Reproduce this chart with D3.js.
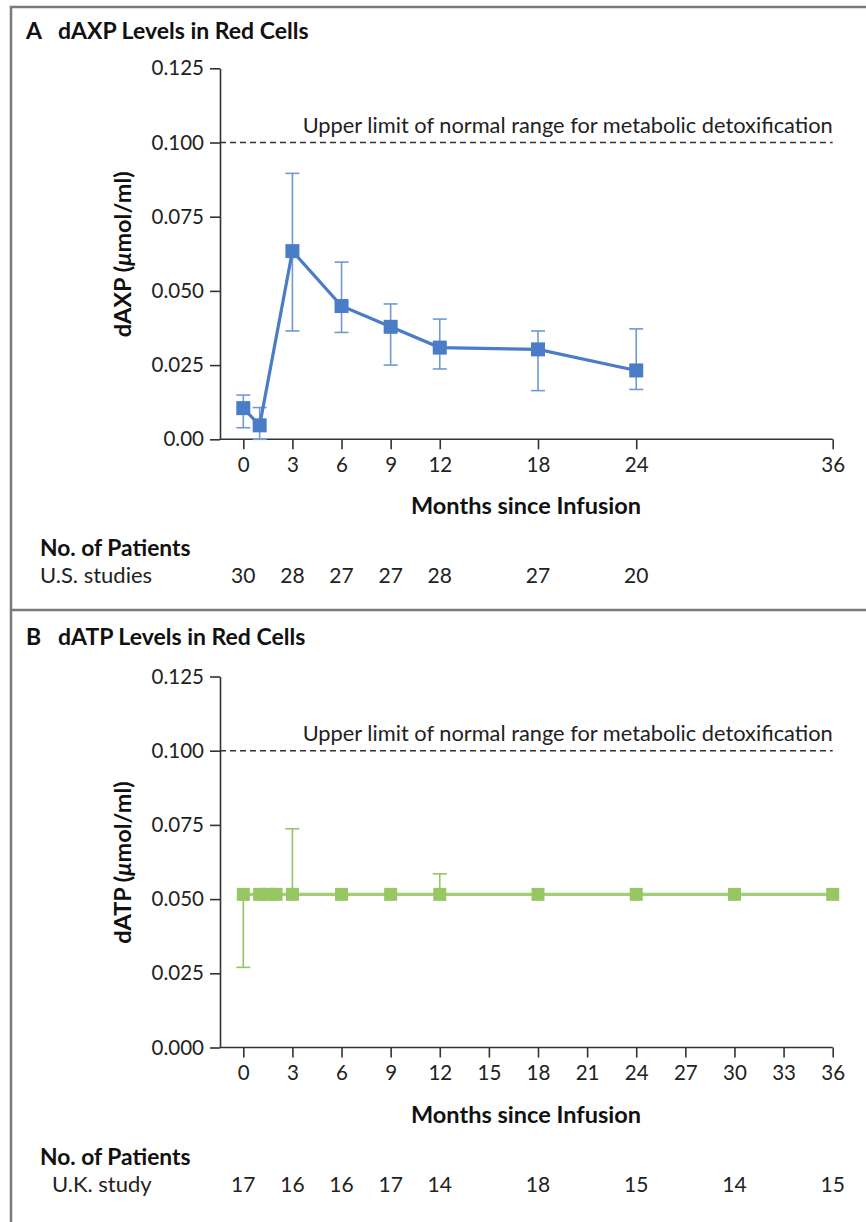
<!DOCTYPE html>
<html>
<head>
<meta charset="utf-8">
<script src="https://cdn.jsdelivr.net/npm/d3@7"></script>
<style>
  body { margin: 0; background: #fff; }
  svg { display: block; font-family: Lato, "Open Sans", sans-serif; }
</style>
</head>
<body>
<svg></svg>
<script>
// panel A: dAXP, U.S. studies
const monthsA = [0, 1, 3, 6, 9, 12, 18, 24];
const meanA   = [0.0105, 0.0047, 0.0634, 0.0449, 0.0379, 0.0309, 0.0303, 0.0232];
const upperA  = [0.0149, 0.0107, 0.0896, 0.0597, 0.0456, 0.0405, 0.0365, 0.0372];
const lowerA  = [0.0039, 0.0000, 0.0365, 0.0360, 0.0250, 0.0237, 0.0164, 0.0168];
const xTicksA = [0, 3, 6, 9, 12, 18, 24, 36];
const yTicksA = [0, 0.025, 0.05, 0.075, 0.1, 0.125];
const countMonthsA = [0, 3, 6, 9, 12, 18, 24];
const countsA = [30, 28, 27, 27, 28, 27, 20];

// panel B: dATP, U.K. study (null = no visible bar)
const monthsB = [0, 1, 1.5, 2, 3, 6, 9, 12, 18, 24, 30, 36];
const meanB   = [0.0516, 0.0516, 0.0516, 0.0516, 0.0516, 0.0516, 0.0516, 0.0516, 0.0516, 0.0516, 0.0516, 0.0516];
const upperB  = [null, null, null, null, 0.0737, null, null, 0.0585, null, null, null, null];
const lowerB  = [0.0270, null, null, null, null, null, null, null, null, null, null, null];
const xTicksB = [0, 3, 6, 9, 12, 15, 18, 21, 24, 27, 30, 33, 36];
const yTicksB = [0, 0.025, 0.05, 0.075, 0.1, 0.125];
const countMonthsB = [0, 3, 6, 9, 12, 18, 24, 30, 36];
const countsB = [17, 16, 16, 17, 14, 18, 15, 14, 15];

const limit = 0.1;

let width = 866;
let height = 1222;
let axisX = 220;

let svg = d3.select('svg')
  .attr('width', width)
  .attr('height', height);

// frame
svg.append('path')
  .attr('d', `M11,${height} V7 H${width} M11,610 H${width}`)
  .attr('fill', 'none')
  .attr('stroke', '#7a7a7a')
  .attr('stroke-width', 2.5);

let drawPanel = (p) => {
  let g = svg.append('g');

  let xScale = d3.scaleLinear().domain([0, 36]).range([243.3, 832.7]);
  let yScale = d3.scaleLinear().domain([0, 0.125]).range([p.bottom, p.bottom - 371]);

  // title
  let title = g.append('text')
    .attr('x', 26).attr('y', p.titleY)
    .attr('font-size', 23).attr('font-weight', 700).attr('fill', '#111');
  title.append('tspan').text(p.letter);
  title.append('tspan').attr('x', 58).text(p.title);

  // y axis
  let yAxis = d3.axisLeft(yScale)
    .tickValues(p.yTicks)
    .tickSize(10)
    .tickSizeOuter(0)
    .tickPadding(6)
    .tickFormat(p.yFormat);
  let ya = g.append('g')
    .attr('transform', `translate(${axisX},0)`)
    .call(yAxis);

  // x axis
  let xAxis = d3.axisBottom(xScale)
    .tickValues(p.xTicks)
    .tickSize(10)
    .tickSizeOuter(0)
    .tickPadding(8);
  let xa = g.append('g')
    .attr('transform', `translate(0,${p.bottom})`)
    .call(xAxis);
  xa.select('.domain').remove();
  xa.append('line')
    .attr('x1', axisX).attr('x2', xScale(36))
    .attr('stroke', '#333').attr('stroke-width', 1.6);

  [ya, xa].forEach(a => {
    a.selectAll('.tick line').attr('stroke', '#333').attr('stroke-width', 1.6);
    a.select('.domain').attr('stroke', '#333').attr('stroke-width', 1.6);
    a.selectAll('text')
      .attr('font-family', 'Lato, sans-serif')
      .attr('font-size', 20.5)
      .attr('fill', '#222');
  });

  // y axis label
  let yl = g.append('text')
    .attr('transform', `translate(131,${p.bottom - 185}) rotate(-90)`)
    .attr('text-anchor', 'middle')
    .attr('font-size', 23.5).attr('font-weight', 700).attr('fill', '#111');
  yl.append('tspan').text(p.yLabel + ' (');
  yl.append('tspan').attr('font-style', 'italic').text('\u03bc');
  yl.append('tspan').text('mol/ml)');

  // x axis label
  g.append('text')
    .attr('x', 526).attr('y', p.bottom + 75)
    .attr('text-anchor', 'middle')
    .attr('font-size', 23.5).attr('font-weight', 700).attr('fill', '#111')
    .text('Months since Infusion');

  // upper limit line
  g.append('line')
    .attr('x1', axisX).attr('x2', xScale(36))
    .attr('y1', yScale(limit)).attr('y2', yScale(limit))
    .attr('stroke', '#333').attr('stroke-width', 1.5)
    .attr('stroke-dasharray', '6,4');
  g.append('text')
    .attr('x', xScale(36)).attr('y', yScale(limit) - 10)
    .attr('text-anchor', 'end')
    .attr('font-size', 21.8).attr('fill', '#222')
    .text('Upper limit of normal range for metabolic detoxification');

  // error bars
  let bars = g.append('g')
    .attr('stroke', p.errColor).attr('stroke-width', 1.6).attr('fill', 'none');
  p.months.forEach((m, i) => {
    let cx = xScale(m);
    let top = p.upper[i] != null ? p.upper[i] : p.mean[i];
    let bot = p.lower[i] != null ? p.lower[i] : p.mean[i];
    if (top === bot) return;
    bars.append('line')
      .attr('x1', cx).attr('x2', cx)
      .attr('y1', yScale(top)).attr('y2', yScale(bot));
    if (p.upper[i] != null) {
      bars.append('line')
        .attr('x1', cx - 7).attr('x2', cx + 7)
        .attr('y1', yScale(top)).attr('y2', yScale(top));
    }
    if (p.lower[i] != null) {
      bars.append('line')
        .attr('x1', cx - 7).attr('x2', cx + 7)
        .attr('y1', yScale(bot)).attr('y2', yScale(bot));
    }
  });

  // line
  let line = d3.line()
    .x((d, i) => xScale(p.months[i]))
    .y(d => yScale(d));
  g.append('path')
    .datum(p.mean)
    .attr('d', line)
    .attr('fill', 'none')
    .attr('stroke', p.lineColor)
    .attr('stroke-width', 3.2);

  // markers
  g.selectAll('rect.marker')
    .data(p.mean)
    .enter()
    .append('rect')
    .attr('class', 'marker')
    .attr('width', p.markerSize)
    .attr('height', p.markerSize)
    .attr('x', (d, i) => xScale(p.months[i]) - p.markerSize / 2)
    .attr('y', d => yScale(d) - p.markerSize / 2)
    .attr('fill', p.color);

  // patient counts
  g.append('text')
    .attr('x', 40).attr('y', p.bottom + 117)
    .attr('font-size', 22.8).attr('font-weight', 700).attr('fill', '#111')
    .text('No. of Patients');
  g.append('text')
    .attr('x', p.groupX).attr('y', p.bottom + 144)
    .attr('font-size', 22).attr('fill', '#222')
    .text(p.group);
  g.selectAll('text.count')
    .data(p.counts)
    .enter()
    .append('text')
    .attr('class', 'count')
    .attr('x', (d, i) => xScale(p.countMonths[i]))
    .attr('y', p.bottom + 144)
    .attr('text-anchor', 'middle')
    .attr('font-size', 21).attr('fill', '#222')
    .text(d => d);
};

drawPanel({
  letter: 'A', title: 'dAXP Levels in Red Cells', titleY: 39,
  bottom: 439.3, yLabel: 'dAXP',
  yTicks: yTicksA, xTicks: xTicksA,
  yFormat: d => d === 0 ? '0.00' : d3.format('.3f')(d),
  months: monthsA, mean: meanA, upper: upperA, lower: lowerA,
  color: '#4a7cc7', lineColor: '#4a7cc7', errColor: '#6f9ad6', markerSize: 14,
  group: 'U.S. studies', groupX: 40,
  countMonths: countMonthsA, counts: countsA
});

drawPanel({
  letter: 'B', title: 'dATP Levels in Red Cells', titleY: 645,
  bottom: 1047.5, yLabel: 'dATP',
  yTicks: yTicksB, xTicks: xTicksB,
  yFormat: d3.format('.3f'),
  months: monthsB, mean: meanB, upper: upperB, lower: lowerB,
  color: '#96c763', lineColor: '#a3cf78', errColor: '#94c464', markerSize: 13,
  group: 'U.K. study', groupX: 52,
  countMonths: countMonthsB, counts: countsB
});
</script>
</body>
</html>
